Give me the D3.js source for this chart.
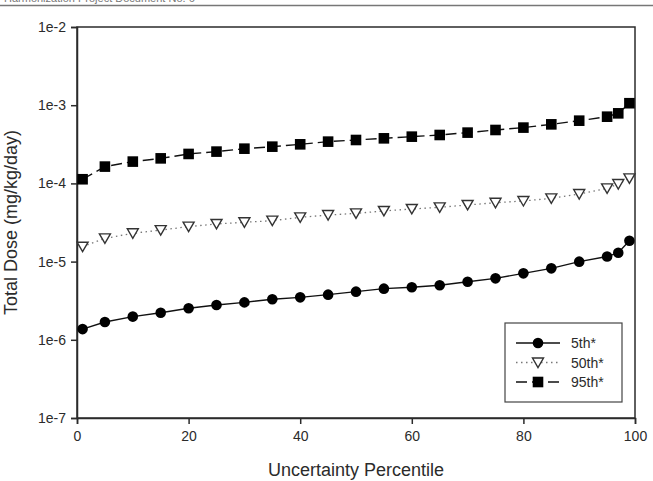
<!DOCTYPE html>
<html>
<head>
<meta charset="utf-8">
<script src="https://cdn.jsdelivr.net/npm/d3@7"></script>
<style>
  body { margin: 0; background: #fff; }
  svg { display: block; font-family: "Liberation Sans", Arial, sans-serif; }
</style>
</head>
<body>
<div id="chart"></div>
<script>
// percentile positions
const percentiles = [1, 5, 10, 15, 20, 25, 30, 35, 40, 45, 50, 55, 60, 65, 70, 75, 80, 85, 90, 95, 97, 99];

const p5 = [1.37e-6, 1.69e-6, 1.98e-6, 2.22e-6, 2.53e-6, 2.79e-6, 3.01e-6, 3.30e-6, 3.49e-6, 3.78e-6,
  4.13e-6, 4.51e-6, 4.69e-6, 4.98e-6, 5.53e-6, 6.11e-6, 7.08e-6, 8.20e-6, 9.98e-6, 1.16e-5, 1.30e-5, 1.85e-5];
const p50 = [1.55e-5, 1.98e-5, 2.30e-5, 2.53e-5, 2.80e-5, 3.03e-5, 3.18e-5, 3.34e-5, 3.68e-5, 3.94e-5,
  4.14e-5, 4.44e-5, 4.71e-5, 4.94e-5, 5.30e-5, 5.66e-5, 5.96e-5, 6.44e-5, 7.31e-5, 8.65e-5, 9.82e-5, 1.16e-4];
const p95 = [1.13e-4, 1.64e-4, 1.90e-4, 2.09e-4, 2.38e-4, 2.55e-4, 2.78e-4, 2.95e-4, 3.16e-4, 3.42e-4,
  3.59e-4, 3.77e-4, 3.96e-4, 4.16e-4, 4.46e-4, 4.82e-4, 5.17e-4, 5.69e-4, 6.34e-4, 7.13e-4, 7.87e-4, 1.06e-3];

const seriesNames = ["5th*", "50th*", "95th*"];
const xTicks = [0, 20, 40, 60, 80, 100];
const yTicks = [1e-7, 1e-6, 1e-5, 1e-4, 1e-3, 1e-2];
const yTickLabels = ["1e-7", "1e-6", "1e-5", "1e-4", "1e-3", "1e-2"];

const W = 653, H = 481;
const margin = {left: 77, right: 18, top: 27, bottom: 63};
const width = W - margin.left - margin.right;
const height = H - margin.top - margin.bottom;
const ink = "#2b2b2b";

const svg = d3.select("#chart").append("svg")
  .attr("width", W).attr("height", H);

// page header remnant
svg.append("text").attr("x", 4).attr("y", 2).attr("font-size", 11).attr("fill", "#777")
  .text("Harmonization Project Document No. 6");
svg.append("line").attr("x1", 0).attr("x2", W).attr("y1", 5.5).attr("y2", 5.5)
  .attr("stroke", "#777").attr("stroke-width", 1.5);

const g = svg.append("g").attr("transform", `translate(${margin.left},${margin.top})`);

const x = d3.scaleLinear().domain([0, 100]).range([0, width]);
const y = d3.scaleLog().domain([1e-7, 1e-2]).range([height, 0]);

// frame
g.append("rect").attr("width", width).attr("height", height)
  .attr("fill", "none").attr("stroke", ink).attr("stroke-width", 1.5);

const xAxis = g.append("g").attr("transform", `translate(0,${height})`)
  .call(d3.axisBottom(x).tickValues(xTicks).tickSize(6).tickPadding(7).tickFormat(d3.format("d")));
const yAxis = g.append("g")
  .call(d3.axisLeft(y).tickValues(yTicks).tickSize(6).tickPadding(5)
    .tickFormat((d, i) => yTickLabels[i]));
[xAxis, yAxis].forEach(a => {
  a.select(".domain").attr("stroke", ink).attr("stroke-width", 1.5);
  a.selectAll(".tick line").attr("stroke", ink).attr("stroke-width", 1.5);
  a.selectAll("text").attr("fill", ink).attr("font-size", 14)
    .attr("font-family", "Liberation Sans, Arial, sans-serif");
});

// axis titles
svg.append("text").attr("x", margin.left + width / 2).attr("y", 476)
  .attr("text-anchor", "middle").attr("font-size", 18).attr("fill", ink)
  .text("Uncertainty Percentile");
svg.append("text").attr("transform", `translate(17,${margin.top + height / 2}) rotate(-90)`)
  .attr("text-anchor", "middle").attr("font-size", 18).attr("fill", ink)
  .text("Total Dose (mg/kg/day)");

const styles = [
  {dash: null, stroke: "#111", width: 1.4, shape: "circle"},
  {dash: "1.5,3.5", stroke: "#777", width: 1.3, shape: "triangle"},
  {dash: "11,5", stroke: "#111", width: 1.4, shape: "square"}
];
const allSeries = [p5, p50, p95];

function drawMarker(sel, shape) {
  if (shape === "circle") {
    sel.append("circle").attr("r", 5.3).attr("fill", "#000");
  } else if (shape === "square") {
    sel.append("rect").attr("x", -5.3).attr("y", -5.3).attr("width", 10.6).attr("height", 10.6).attr("fill", "#000");
  } else {
    sel.append("path").attr("d", "M-5.5,-4.5 L5.5,-4.5 L0,5 Z")
      .attr("fill", "#fff").attr("stroke", "#333").attr("stroke-width", 1.4);
  }
}

const line = d3.line().x(d => x(d[0])).y(d => y(d[1]));

allSeries.forEach((vals, k) => {
  const pts = percentiles.map((p, i) => [p, vals[i]]);
  const st = styles[k];
  g.append("path").datum(pts).attr("d", line)
    .attr("fill", "none").attr("stroke", st.stroke).attr("stroke-width", st.width)
    .attr("stroke-dasharray", st.dash);
  g.selectAll(null).data(pts).join("g")
    .attr("transform", d => `translate(${x(d[0])},${y(d[1])})`)
    .each(function() { drawMarker(d3.select(this), st.shape); });
});

// legend
const lg = svg.append("g").attr("transform", "translate(505,323)");
lg.append("rect").attr("width", 117).attr("height", 79)
  .attr("fill", "#fff").attr("stroke", "#444").attr("stroke-width", 1.2);
seriesNames.forEach((name, k) => {
  const st = styles[k];
  const row = lg.append("g").attr("transform", `translate(0,${20 + k * 19.5})`);
  row.append("line").attr("x1", 11).attr("x2", 55).attr("stroke", st.stroke)
    .attr("stroke-width", st.width).attr("stroke-dasharray", st.dash);
  drawMarker(row.append("g").attr("transform", "translate(33,0)"), st.shape);
  row.append("text").attr("x", 66).attr("y", 5).attr("font-size", 14).attr("fill", ink).text(name);
});
</script>
</body>
</html>
